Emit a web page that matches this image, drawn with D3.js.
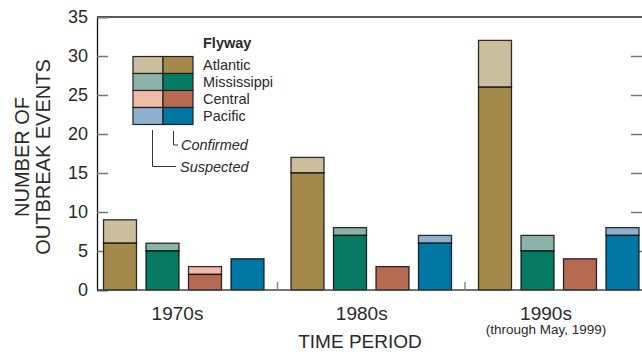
<!DOCTYPE html>
<html><head><meta charset="utf-8">
<script src="https://cdn.jsdelivr.net/npm/d3@7"></script>
<style>
body{margin:0;background:#fff;}
svg{display:block;font-family:"Liberation Sans",Arial,sans-serif;}
</style></head>
<body><svg id="c" width="642" height="360"></svg>
<script>
const periods = ["1970s","1980s","1990s"];
const flyways = ["Atlantic","Mississippi","Central","Pacific"];
// confirmed and suspected counts per period, in flyway order
const confirmed = [[6,5,2,4],[15,7,3,6],[26,5,4,7]];
const suspected = [[3,1,1,0],[2,1,0,1],[6,2,0,1]];
const yTicks = [0,5,10,15,20,25,30,35];
const confColors = ["#a3894a","#067a63","#b66a52","#0076a3"];
const suspColors = ["#cbbe9e","#8db3a8","#efbca9","#8eb1cd"];

const svg = d3.select("#c");
const y = d3.scaleLinear().domain([0,35]).range([290,17]);
const x0 = d3.scaleBand().domain(periods).range([90,652.5]).paddingInner(0.144).paddingOuter(0.072);
const x1 = d3.scaleBand().domain(flyways).range([0,x0.bandwidth()]).paddingInner(0.2235).paddingOuter(0);
const labelX = d3.scalePoint().domain(periods).range([177.5,546]);
const ink = "#2a2a2a";

// frame top line
svg.append("line").attr("x1",97).attr("x2",642).attr("y1",y(35)).attr("y2",y(35)).attr("stroke","#222").attr("stroke-width",1.3);

// left axis
const la = svg.append("g").attr("transform","translate(97,0)")
  .call(d3.axisLeft(y).tickValues(yTicks).tickSize(-11).tickPadding(9));
la.select(".domain").attr("stroke","#111").attr("stroke-width",1.3);
la.selectAll(".tick line").attr("stroke","#777").attr("stroke-width",1.5);
la.selectAll(".tick text").attr("font-size",18).attr("fill",ink).attr("font-family","Liberation Sans, Arial, sans-serif");

// right axis (edge just off-canvas)
const ra = svg.append("g").attr("transform","translate(642,0)")
  .call(d3.axisRight(y).tickValues(yTicks.slice(1,7)).tickSize(-11).tickFormat(""));
ra.select(".domain").remove();
ra.selectAll(".tick line").attr("stroke","#777").attr("stroke-width",1.5);

// bars
const groups = svg.selectAll("g.grp").data(periods).join("g").attr("class","grp")
  .attr("transform",d=>`translate(${x0(d)},0)`);
groups.each(function(p,pi){
  const g = d3.select(this);
  flyways.forEach((f,fi)=>{
    const c = confirmed[pi][fi], s = suspected[pi][fi];
    if (s>0) g.append("rect").attr("x",x1(f)).attr("width",x1.bandwidth())
      .attr("y",y(c+s)).attr("height",y(c)-y(c+s))
      .attr("fill",suspColors[fi]).attr("stroke","rgba(0,0,0,0.8)").attr("stroke-width",1.3);
    g.append("rect").attr("x",x1(f)).attr("width",x1.bandwidth())
      .attr("y",y(c)).attr("height",y(0)-y(c))
      .attr("fill",confColors[fi]).attr("stroke","rgba(0,0,0,0.8)").attr("stroke-width",1.3);
  });
});

// bottom axis line
svg.append("line").attr("x1",97).attr("x2",642).attr("y1",y(0)).attr("y2",y(0)).attr("stroke","#444").attr("stroke-width",1.6);
// separators between periods
periods.slice(1).forEach(p=>{
  const xs = x0(p) - x0.step()*x0.paddingInner()/2;
  svg.append("line").attr("x1",xs).attr("x2",xs).attr("y1",y(0)-8).attr("y2",y(0)).attr("stroke","#888").attr("stroke-width",1.5);
});

// x labels
svg.selectAll("text.xl").data(periods).join("text").attr("class","xl")
  .attr("x",d=>labelX(d)).attr("y",320).attr("text-anchor","middle")
  .attr("font-size",19).attr("fill",ink).text(d=>d);
svg.append("text").attr("x",labelX("1990s")).attr("y",334).attr("text-anchor","middle")
  .attr("font-size",13.5).attr("fill",ink).text("(through May, 1999)");
svg.append("text").attr("x",360).attr("y",348).attr("text-anchor","middle")
  .attr("font-size",19).attr("fill",ink).text("TIME PERIOD");

// y title
const yt = svg.append("text").attr("transform","translate(0,157) rotate(-90)")
  .attr("text-anchor","middle").attr("font-size",20).attr("fill",ink);
yt.append("tspan").attr("x",0).attr("y",29).text("NUMBER OF");
yt.append("tspan").attr("x",0).attr("y",50).text("OUTBREAK EVENTS");

// legend
const lg = svg.append("g");
const sw = 30, sh = 17, lx = 133, ly = 56.5;
flyways.forEach((f,i)=>{
  lg.append("rect").attr("x",lx).attr("y",ly+i*sh).attr("width",sw).attr("height",sh)
    .attr("fill",suspColors[i]).attr("stroke","#222").attr("stroke-width",1.2);
  lg.append("rect").attr("x",lx+sw).attr("y",ly+i*sh).attr("width",sw).attr("height",sh)
    .attr("fill",confColors[i]).attr("stroke","#222").attr("stroke-width",1.2);
  lg.append("text").attr("x",203).attr("y",ly+i*sh+13).attr("font-size",14.5).attr("fill",ink).text(f);
});
lg.append("text").attr("x",203).attr("y",48).attr("font-size",14.5).attr("font-weight","bold").attr("fill",ink).text("Flyway");
lg.append("path").attr("d","M173.5,131V145H178").attr("fill","none").attr("stroke","#333").attr("stroke-width",1);
lg.append("path").attr("d","M152.5,130V166.5H176").attr("fill","none").attr("stroke","#333").attr("stroke-width",1);
lg.append("text").attr("x",181).attr("y",150).attr("font-size",14.5).attr("font-style","italic").attr("fill",ink).text("Confirmed");
lg.append("text").attr("x",180).attr("y",172).attr("font-size",14.5).attr("font-style","italic").attr("fill",ink).text("Suspected");
</script></body></html>
